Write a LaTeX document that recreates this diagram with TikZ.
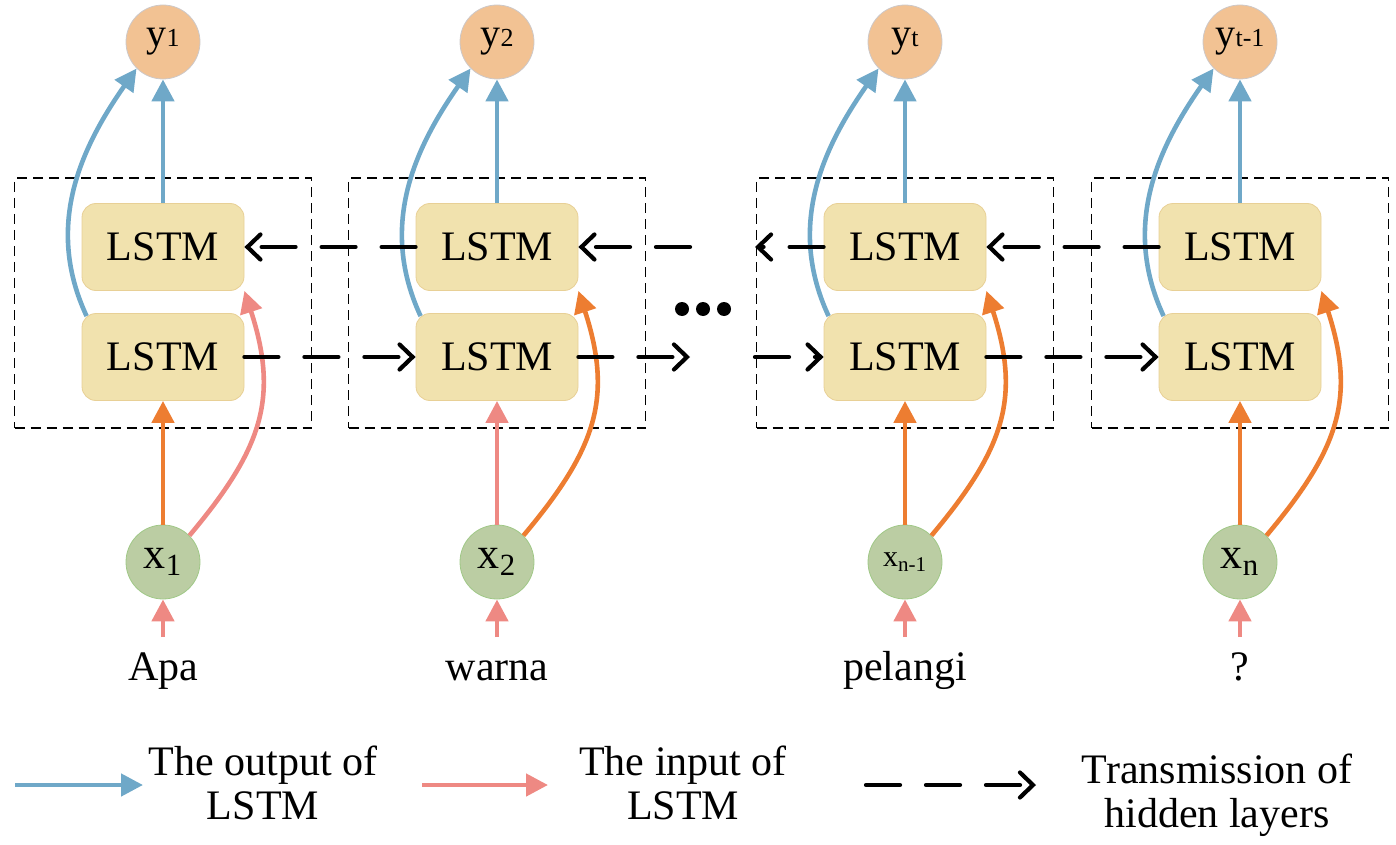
\documentclass[tikz,border=0pt]{standalone}
\usepackage{fontspec}
\setmainfont{Liberation Serif}
\usepackage{xcolor}
\usepackage{tikz}
\usetikzlibrary{arrows.meta}

\definecolor{outblue}{RGB}{111,168,200}
\definecolor{inpink}{RGB}{238,137,131}
\definecolor{feed}{RGB}{237,125,49}
\definecolor{lstmfill}{RGB}{241,226,174}
\definecolor{lstmedge}{RGB}{232,208,150}
\definecolor{yfill}{RGB}{242,194,147}
\definecolor{yedge}{RGB}{205,200,200}
\definecolor{xfill}{RGB}{187,205,163}
\definecolor{xedge}{RGB}{160,200,135}

\newcommand{\ysub}[2]{#1{\fontsize{13}{13}\selectfont #2}}
\newcommand{\xsub}[2]{#1\textsubscript{#2}}

\begin{document}
\begin{tikzpicture}[x=0.5pt,y=-0.5pt,
    lstm/.style={draw=lstmedge, fill=lstmfill, rounded corners=7pt, minimum width=81pt,
        minimum height=43.5pt, inner sep=0pt, font=\fontsize{21}{24}\selectfont},
    yout/.style={circle, draw=yedge, fill=yfill, minimum size=37pt, inner sep=0pt,
        font=\fontsize{20}{20}\selectfont},
    xin/.style={circle, draw=xedge, fill=xfill, minimum size=37pt, inner sep=0pt,
        font=\fontsize{22}{22}\selectfont},
    cell/.style={draw, line width=0.7pt, dash pattern=on 5pt off 3pt, minimum width=148.5pt,
        minimum height=125pt, inner sep=0pt},
    word/.style={anchor=base, font=\fontsize{21}{24}\selectfont},
    legtext/.style={align=center, font=\fontsize{21}{22}\selectfont},
    flow/.style={line width=2.3pt, -{Triangle[length=11pt,width=11pt]}},
    hiddenarr/.style={line width=2.1pt, line cap=round, dash pattern=on 17pt off 13pt,
        -{Straight Barb[length=6.5pt,width=12.5pt,line cap=round]}}
  ]
  \useasboundingbox (0,0) rectangle (1396,845);

  % one column per word
  \foreach \i/\cx/\ylab/\xlab/\txt/\st/\cv in {
      1/163/{\ysub{y}{1}}/{\xsub{x}{1}}/Apa/feed/inpink,
      2/497/{\ysub{y}{2}}/{\xsub{x}{2}}/warna/inpink/feed,
      3/905/{\ysub{y}{t}}/{{\fontsize{15}{15}\selectfont\xsub{x}{n-1}}}/pelangi/feed/feed,
      4/1240/{\ysub{y}{t-1}}/{\xsub{x}{n}}/?/feed/feed}{
      \node[cell] (cell\i) at (\cx,303) {};
      \node[lstm] (bwd\i) at (\cx,247) {LSTM};
      \node[lstm] (fwd\i) at (\cx,357) {LSTM};
      \node[yout] (y\i) at (\cx,42) {\ylab};
      \node[xin] (x\i) at (\cx,562) {\xlab};
      \node[word] (w\i) at (\cx,680) {\txt};
      \coordinate (src\i) at (\cx,637);

      \draw[flow, inpink] (src\i) -- (x\i);
      \draw[flow, \st] (x\i) -- (fwd\i);
      \draw[flow, \cv] (x\i.45) to[out=50, in=-72, looseness=1.15] (bwd\i.south east);
      \draw[flow, outblue] (bwd\i) -- (y\i);
      \draw[flow, outblue] ([xshift=2.5pt,yshift=-1.5pt]fwd\i.north west)
        to[out=115, in=235] (y\i.225);
    }

  % hidden layers
  \coordinate (gapA) at (690,247);
  \coordinate (gapB) at (755,247);
  \coordinate (gapC) at (690,357);
  \coordinate (gapD) at (755,357);
  \draw[hiddenarr] (bwd2) -- (bwd1);
  \draw[hiddenarr] (gapA) -- (bwd2);
  \draw[hiddenarr] (bwd3) -- (gapB);
  \draw[hiddenarr] (bwd4) -- (bwd3);
  \draw[hiddenarr] (fwd1) -- (fwd2);
  \draw[hiddenarr] (fwd2) -- (gapC);
  \draw[hiddenarr] (gapD) -- (fwd3);
  \draw[hiddenarr] (fwd3) -- (fwd4);

  \foreach \d in {682,703,724}
    \fill (\d,309) circle (3.5pt);

  % legend
  \coordinate (lo1) at (15,785);
  \coordinate (lo2) at (143,785);
  \coordinate (li1) at (422,785);
  \coordinate (li2) at (548,785);
  \coordinate (lh1) at (866,785);
  \coordinate (lh2) at (1036,785);
  \draw[flow, outblue] (lo1) -- (lo2);
  \draw[flow, inpink] (li1) -- (li2);
  \draw[hiddenarr] (lh1) -- (lh2);
  \node[legtext] (legOut) at (263,783) {The output of\\LSTM};
  \node[legtext] (legIn) at (683,783) {The input of\\LSTM};
  \node[legtext] (legHid) at (1217,795) {Transmission of\\hidden layers};
\end{tikzpicture}
\end{document}
